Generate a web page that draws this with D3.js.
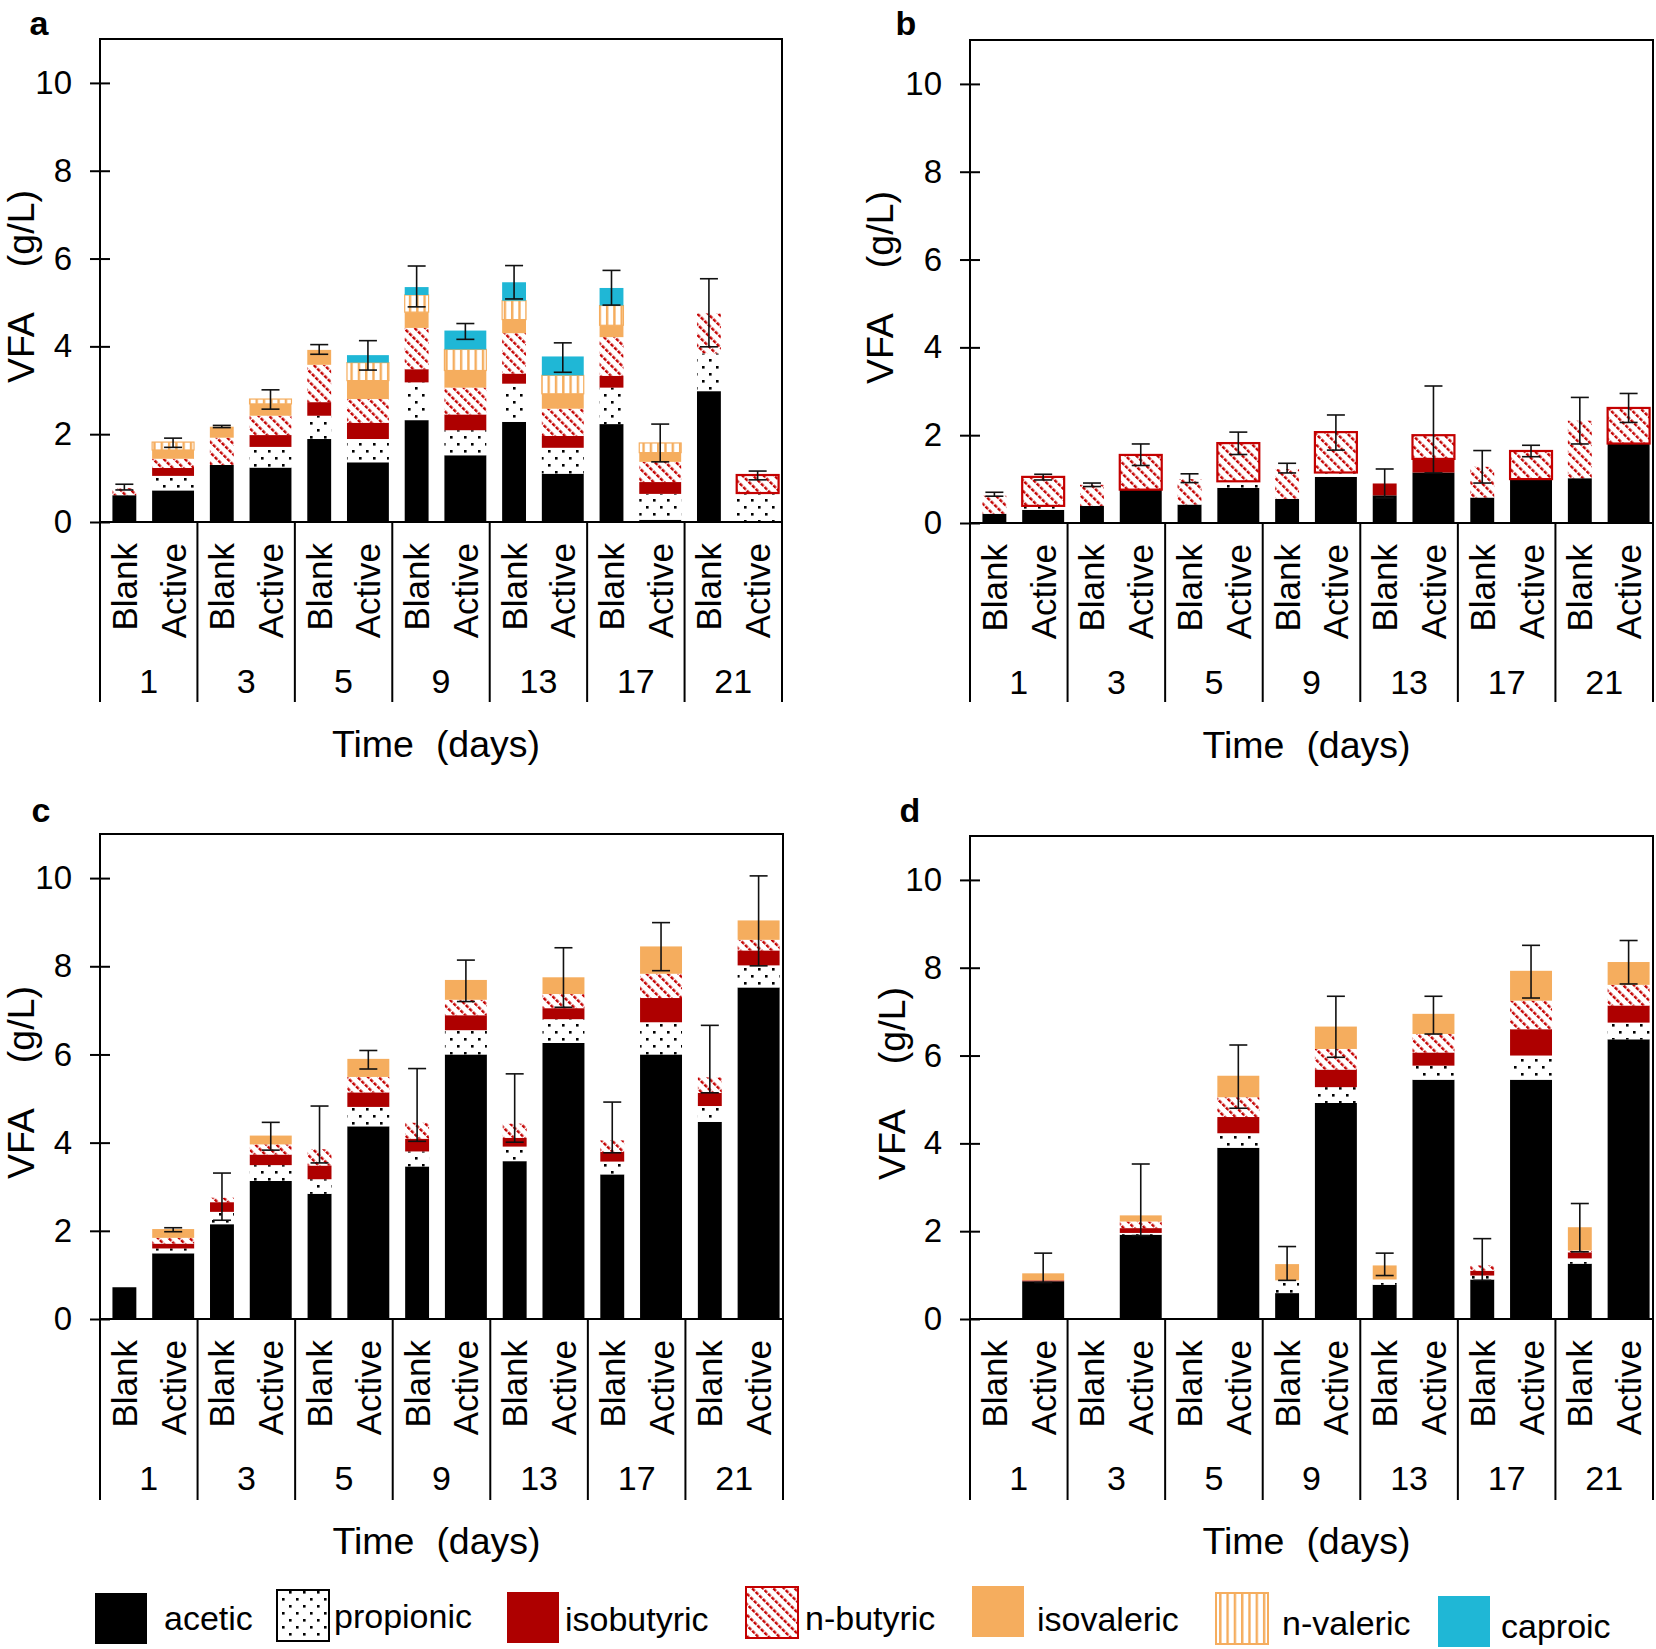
<!DOCTYPE html>
<html><head><meta charset="utf-8">
<script src="https://cdn.jsdelivr.net/npm/d3@7"></script>
<style>
body{margin:0;background:#fff}
svg{display:block}
text{font-family:"Liberation Sans",Arial,Helvetica,sans-serif;fill:#000}
</style>
</head><body>
<svg id="chart" width="1656" height="1649"></svg>
<script>
// ---------------- DATA ----------------
const days = ["1","3","5","9","13","17","21"];
const treatments = ["Blank","Active"];
const acids = ["acetic","propionic","isobutyric","n-butyric","isovaleric","n-valeric","caproic"];
const yTicks = [0,2,4,6,8,10];
const panelLetters = ["a","b","c","d"];
const axisTitleY = "VFA (g/L)";
const axisTitleX = "Time (days)";

// bar order: day1 Blank, day1 Active, day3 Blank, day3 Active, ... day21 Active
// panel a
const aAcetic     = [0.61,0.72,1.30,1.24,1.89,1.36,2.32,1.52,2.28,1.10,2.23,0.05,2.98,0.00];
const aPropionic  = [0.00,0.33,0.00,0.47,0.53,0.53,0.86,0.57,0.87,0.59,0.83,0.59,0.86,0.66];
const aIsobutyric = [0.00,0.18,0.00,0.27,0.31,0.37,0.30,0.36,0.23,0.27,0.27,0.27,0.00,0.00];
const aButyric    = [0.16,0.21,0.62,0.44,0.85,0.54,0.94,0.61,0.92,0.62,0.88,0.46,0.91,0.41];
const aIsovaleric = [0.00,0.20,0.25,0.27,0.34,0.42,0.36,0.39,0.31,0.34,0.27,0.21,0.00,0.00];
const aValeric    = [0.00,0.18,0.00,0.11,0.00,0.41,0.39,0.48,0.43,0.42,0.45,0.22,0.00,0.00];
const aCaproic    = [0.00,0.00,0.00,0.00,0.00,0.17,0.18,0.43,0.42,0.43,0.40,0.00,0.00,0.00];
const aErrUpper   = [0.86,1.91,2.20,3.01,4.04,4.13,5.83,4.52,5.84,4.08,5.73,2.23,5.54,1.16];
const aErrLower   = [0.73,1.70,2.15,2.57,3.82,3.46,4.90,4.16,5.08,3.41,4.94,1.37,3.99,0.96];

// panel b
const bAcetic     = [0.21,0.30,0.39,0.76,0.42,0.80,0.55,1.05,0.63,1.15,0.58,1.00,1.02,1.81];
const bPropionic  = [0.00,0.09,0.00,0.00,0.00,0.15,0.00,0.10,0.00,0.00,0.00,0.00,0.00,0.00];
const bIsobutyric = [0.00,0.00,0.00,0.00,0.00,0.00,0.00,0.00,0.27,0.31,0.00,0.00,0.00,0.00];
const bButyric    = [0.41,0.66,0.48,0.79,0.58,0.87,0.68,0.92,0.00,0.54,0.70,0.64,1.31,0.81];
const bIsovaleric = [0,0,0,0,0,0,0,0,0,0,0,0,0,0];
const bValeric    = [0,0,0,0,0,0,0,0,0,0,0,0,0,0];
const bCaproic    = [0,0,0,0,0,0,0,0,0,0,0,0,0,0];
const bErrUpper   = [0.70,1.11,0.91,1.80,1.12,2.07,1.36,2.46,1.23,3.12,1.65,1.77,2.86,2.95];
const bErrLower   = [0.61,0.98,0.83,1.31,0.92,1.56,1.14,1.66,0.57,1.14,0.91,1.51,1.80,2.29];

// panel c
const cAcetic     = [0.72,1.49,2.15,3.13,2.84,4.37,3.46,6.00,3.58,6.26,3.28,6.00,4.47,7.52];
const cPropionic  = [0.00,0.11,0.28,0.36,0.33,0.44,0.34,0.55,0.33,0.54,0.29,0.73,0.36,0.50];
const cIsobutyric = [0.00,0.11,0.22,0.24,0.31,0.33,0.29,0.34,0.20,0.25,0.22,0.55,0.30,0.34];
const cButyric    = [0.00,0.13,0.10,0.23,0.37,0.35,0.36,0.35,0.32,0.32,0.26,0.55,0.35,0.24];
const cIsovaleric = [0.00,0.20,0.00,0.20,0.00,0.41,0.00,0.45,0.00,0.38,0.00,0.62,0.00,0.44];
const cValeric    = [0,0,0,0,0,0,0,0,0,0,0,0,0,0];
const cCaproic    = [0,0,0,0,0,0,0,0,0,0,0,0,0,0];
const cErrUpper   = [null,2.07,3.31,4.46,4.83,6.09,5.68,8.14,5.56,8.42,4.92,8.99,6.66,10.05];
const cErrLower   = [null,1.98,2.24,3.83,3.54,5.67,4.03,7.20,4.01,7.07,3.77,7.90,5.13,8.01];

// panel d
const dAcetic     = [0.00,0.86,0.00,1.92,0.00,3.90,0.59,4.92,0.78,5.45,0.90,5.45,1.26,6.37];
const dPropionic  = [0.00,0.00,0.00,0.04,0.00,0.33,0.29,0.36,0.12,0.32,0.09,0.55,0.12,0.38];
const dIsobutyric = [0.00,0.02,0.00,0.11,0.00,0.37,0.00,0.40,0.00,0.30,0.11,0.60,0.14,0.39];
const dButyric    = [0.00,0.00,0.00,0.15,0.00,0.45,0.00,0.47,0.00,0.42,0.12,0.65,0.04,0.47];
const dIsovaleric = [0.00,0.16,0.00,0.14,0.00,0.49,0.37,0.51,0.32,0.46,0.00,0.68,0.53,0.52];
const dValeric    = [0,0,0,0,0,0,0,0,0,0,0,0,0,0];
const dCaproic    = [0,0,0,0,0,0,0,0,0,0,0,0,0,0];
const dErrUpper   = [null,1.50,null,3.53,null,6.24,1.65,7.35,1.50,7.35,1.83,8.51,2.63,8.62];
const dErrLower   = [null,0.83,null,1.90,null,4.80,0.88,5.96,0.99,6.49,0.88,7.31,1.53,7.63];

// ---------------- LAYOUT / STYLE ----------------
const panels = [
  {letter:panelLetters[0], left:100, right:782, top:39, zero:522, sepBottom:702, titleX:21, letterX:39, letterY:23,
   series:[aAcetic,aPropionic,aIsobutyric,aButyric,aIsovaleric,aValeric,aCaproic], errU:aErrUpper, errL:aErrLower},
  {letter:panelLetters[1], left:970, right:1653, top:40, zero:523, sepBottom:702, titleX:880, letterX:906, letterY:23,
   series:[bAcetic,bPropionic,bIsobutyric,bButyric,bIsovaleric,bValeric,bCaproic], errU:bErrUpper, errL:bErrLower},
  {letter:panelLetters[2], left:100, right:783, top:834, zero:1319, sepBottom:1500, titleX:21, letterX:41, letterY:810,
   series:[cAcetic,cPropionic,cIsobutyric,cButyric,cIsovaleric,cValeric,cCaproic], errU:cErrUpper, errL:cErrLower},
  {letter:panelLetters[3], left:970, right:1653, top:836, zero:1319, sepBottom:1500, titleX:892, letterX:910, letterY:810,
   series:[dAcetic,dPropionic,dIsobutyric,dButyric,dIsovaleric,dValeric,dCaproic], errU:dErrUpper, errL:dErrLower}
];
const RED = "#AE0000", HATCH = "#C40000", ORANGE = "#F5AD5E", CYAN = "#1FB7D6";
const fills = {"acetic":"#000","propionic":"url(#pDots)","isobutyric":RED,"n-butyric":"url(#pHatch)",
               "isovaleric":ORANGE,"n-valeric":"url(#pVlines)","caproic":CYAN};
const legendSwX = [95,277,507,746,972,1216,1438];
const legendSwY = [1593,1590,1592,1587,1586,1593,1596];
const legendTxX = [164,334,565,805,1037,1282,1501];
const legendTxY = [1618,1616,1619,1618,1619,1623,1626];

const svg = d3.select("#chart");
const defs = svg.append("defs");
// dots
const pd = defs.append("pattern").attr("id","pDots").attr("patternUnits","userSpaceOnUse").attr("width",14).attr("height",14);
pd.append("rect").attr("width",14).attr("height",14).attr("fill","#fff");
pd.append("rect").attr("x",2).attr("y",2).attr("width",2.6).attr("height",2.6).attr("fill","#000");
pd.append("rect").attr("x",9).attr("y",9).attr("width",2.6).attr("height",2.6).attr("fill","#000");
// hatch "\"
const ph = defs.append("pattern").attr("id","pHatch").attr("patternUnits","userSpaceOnUse")
  .attr("width",7.5).attr("height",5).attr("patternTransform","rotate(-45)");
ph.append("rect").attr("width",7.5).attr("height",5).attr("fill","#fff");
ph.append("rect").attr("x",0).attr("y",0).attr("width",2.4).attr("height",3.6).attr("fill",HATCH);
// vertical lines
const pv = defs.append("pattern").attr("id","pVlines").attr("patternUnits","userSpaceOnUse").attr("width",7.3).attr("height",10);
pv.append("rect").attr("width",7.3).attr("height",10).attr("fill","#fff");
pv.append("rect").attr("x",0).attr("width",2.4).attr("height",10).attr("fill",ORANGE);

function drawPanel(p){
  const g = svg.append("g");
  const y = d3.scaleLinear().domain([0,11]).range([p.zero,p.top]);
  const slots = d3.range(days.length*treatments.length);
  const x = d3.scaleBand().domain(slots).range([p.left,p.right]);
  const gx = d3.scaleBand().domain(days).range([p.left,p.right]);
  const bw = x.bandwidth();
  const widthOf = i => (i%2===0 ? 0.49 : 0.86)*bw;

  const rows = slots.map(i => { const o = {}; acids.forEach((k,j)=> o[k] = p.series[j][i]); return o; });
  const stacked = d3.stack().keys(acids)(rows);

  const topKey = slots.map(i => { let k=null; acids.forEach((a,j)=>{ if(p.series[j][i]>0) k=a; }); return k; });

  stacked.forEach(layer => {
    const key = layer.key;
    g.append("g").selectAll("rect").data(layer.map((d,i)=>({d,i})).filter(o=>o.d[1]-o.d[0]>0))
      .join("rect")
      .attr("x", o => x(o.i)+bw/2-widthOf(o.i)/2)
      .attr("width", o => widthOf(o.i))
      .attr("y", o => y(o.d[1]))
      .attr("height", o => y(o.d[0])-y(o.d[1]))
      .attr("fill", fills[key])
      .attr("stroke", o => {
        if (key==="n-butyric" && o.i%2===1 && topKey[o.i]==="n-butyric") return HATCH;
        if (key==="n-valeric") return ORANGE;
        return "none";
      })
      .attr("stroke-width", o => key==="n-butyric" ? 2.2 : 1.2);
  });

  // error bars
  const eg = g.append("g").attr("stroke","#111").attr("stroke-width",1.6);
  slots.forEach(i => {
    if (p.errU[i]==null) return;
    const cx = x(i)+bw/2;
    eg.append("line").attr("x1",cx).attr("x2",cx).attr("y1",y(p.errL[i])).attr("y2",y(p.errU[i]));
    [p.errL[i],p.errU[i]].forEach(v => eg.append("line").attr("x1",cx-9).attr("x2",cx+9).attr("y1",y(v)).attr("y2",y(v)));
  });

  // frame
  g.append("path").attr("d",`M${p.left},${p.zero}V${p.top}H${p.right}V${p.zero}`)
    .attr("fill","none").attr("stroke","#000").attr("stroke-width",2);
  g.append("line").attr("x1",p.left).attr("x2",p.right).attr("y1",p.zero).attr("y2",p.zero)
    .attr("stroke","#000").attr("stroke-width",2);

  // y axis
  const ya = g.append("g").attr("transform",`translate(${p.left},0)`)
    .call(d3.axisLeft(y).tickValues(yTicks).tickSizeInner(10).tickSizeOuter(0).tickPadding(18).tickFormat(d3.format("d")));
  ya.select(".domain").remove();
  ya.selectAll(".tick line").attr("x1",-10).attr("x2",10).attr("stroke","#000").attr("stroke-width",2);
  ya.selectAll(".tick text").attr("font-size",33).attr("font-family","Liberation Sans, Arial, sans-serif").attr("fill","#000");

  // category axis separators
  const bounds = days.map(d=>gx(d)).concat([p.right]);
  g.append("g").selectAll("line").data(bounds).join("line")
    .attr("x1",d=>d).attr("x2",d=>d).attr("y1",p.zero).attr("y2",p.sepBottom)
    .attr("stroke","#000").attr("stroke-width",2);
  // treatment labels
  g.append("g").selectAll("text").data(slots).join("text")
    .attr("transform", i => `translate(${x(i)+bw/2},${p.zero+21}) rotate(-90)`)
    .attr("text-anchor","end").attr("dominant-baseline","central")
    .attr("font-size",35)
    .text(i => treatments[i%2]);
  // day labels
  g.append("g").selectAll("text").data(days).join("text")
    .attr("x", d => gx(d)+gx.bandwidth()/2).attr("y", p.zero+159)
    .attr("text-anchor","middle").attr("dominant-baseline","central")
    .attr("font-size",34).text(d=>d);
  // x title
  const xt = g.append("text").attr("x",(p.left+p.right)/2 - 5).attr("y",p.zero+222)
    .attr("text-anchor","middle").attr("dominant-baseline","central").attr("font-size",37.5);
  const xp = axisTitleX.split(" ");
  xt.append("tspan").text(xp[0]);
  xt.append("tspan").attr("dx",22).text(xp[1]);
  // y title
  const yt = g.append("text").attr("transform",`translate(${p.titleX},${(p.top+p.zero)/2+6}) rotate(-90)`)
    .attr("text-anchor","middle").attr("dominant-baseline","central").attr("font-size",37.5);
  const yp = axisTitleY.split(" ");
  yt.append("tspan").text(yp[0]);
  yt.append("tspan").attr("dx",45).text(yp[1]);
  // letter
  g.append("text").attr("x",p.letterX).attr("y",p.letterY).attr("text-anchor","middle")
    .attr("dominant-baseline","central").attr("font-size",34).attr("font-weight","bold").text(p.letter);
}
panels.forEach(drawPanel);

// legend
const lg = svg.append("g");
acids.forEach((a,i) => {
  const stroke = a==="propionic" ? "#000" : a==="n-butyric" ? HATCH : a==="n-valeric" ? ORANGE : "none";
  lg.append("rect").attr("x",legendSwX[i]).attr("y",legendSwY[i]).attr("width",52).attr("height",51)
    .attr("fill",fills[a]).attr("stroke",stroke).attr("stroke-width",2);
  lg.append("text").attr("x",legendTxX[i]).attr("y",legendTxY[i]).attr("dominant-baseline","central")
    .attr("font-size",34).text(a);
});
</script>
</body></html>
